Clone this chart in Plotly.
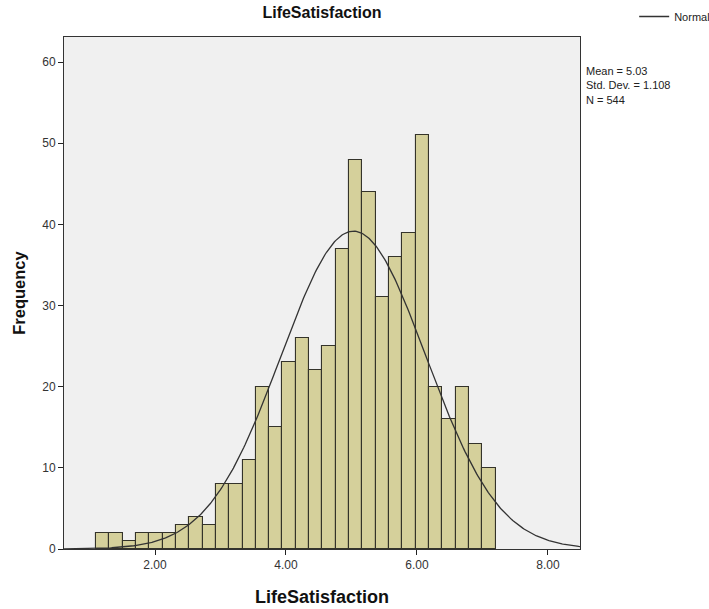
import numpy as np
import plotly.graph_objects as go

# Data
bin_start = 1.1
bin_width = 0.20333
counts = [2, 2, 1, 2, 2, 2, 3, 4, 3, 8, 8, 11, 20, 15, 23, 26, 22, 25,
          37, 48, 44, 31, 36, 39, 51, 20, 16, 20, 13, 10]
mean_val = 5.03
sd_val = 1.108
n_val = 544
x_tickvals = [2, 4, 6, 8]
y_tickvals = [0, 10, 20, 30, 40, 50, 60]

centers = [bin_start + bin_width * (i + 0.5) for i in range(len(counts))]

xc = np.linspace(0.61, 8.49, 400)
yc = n_val * 0.2 / (sd_val * np.sqrt(2 * np.pi)) * np.exp(-0.5 * ((xc - mean_val) / sd_val) ** 2)

fig = go.Figure()
fig.add_trace(go.Bar(
    x=centers, y=counts, width=bin_width,
    marker=dict(color="#d5d09b", line=dict(color="#34332a", width=1.1)),
    showlegend=False, hoverinfo="x+y"))
fig.add_trace(go.Scatter(
    x=xc, y=yc, mode="lines", name="Normal",
    line=dict(color="#333333", width=1.3)))

font_family = "Arial, Liberation Sans, sans-serif"

fig.update_layout(
    width=709, height=609,
    margin=dict(l=64, r=129, t=37, b=60, autoexpand=False),
    paper_bgcolor="white",
    plot_bgcolor="#f0f0f0",
    font=dict(family=font_family, color="#222222", size=12),
    bargap=0,
    title=dict(text="<b>LifeSatisfaction</b>", x=0.5, xref="paper",
               y=1 - 12 / 609, yref="container", yanchor="middle",
               font=dict(size=16, color="#111111")),
    legend=dict(x=1.105, y=1.04, xanchor="left", yanchor="middle",
                font=dict(size=11, color="#222222"), bgcolor="rgba(0,0,0,0)",
                itemwidth=30),
    xaxis=dict(range=[0.61, 8.49], tickvals=x_tickvals, tickformat=".2f",
               showgrid=False, zeroline=False, ticks="outside", ticklen=5,
               tickcolor="#222222", showline=True, mirror=True,
               linecolor="#333333", linewidth=1,
               tickfont=dict(size=12, color="#333333"),
               title=dict(text="<b>LifeSatisfaction</b>", standoff=18,
                          font=dict(size=18, color="#111111"))),
    yaxis=dict(range=[0, 63.1], tickvals=y_tickvals,
               showgrid=False, zeroline=False, ticks="outside", ticklen=5,
               tickcolor="#222222", showline=True, mirror=True,
               linecolor="#333333", linewidth=1,
               tickfont=dict(size=12, color="#333333"),
               title=dict(text="<b>Frequency</b>", standoff=12,
                          font=dict(size=16.5, color="#111111"))),
)

fig.add_annotation(
    x=1.007, y=0.95, xref="paper", yref="paper", xanchor="left", yanchor="top",
    align="left", showarrow=False,
    text=f"Mean = {mean_val:.2f}<br>Std. Dev. = {sd_val:.3f}<br>N = {n_val}",
    font=dict(size=11, color="#222222"))

fig.write_html("out.html")
